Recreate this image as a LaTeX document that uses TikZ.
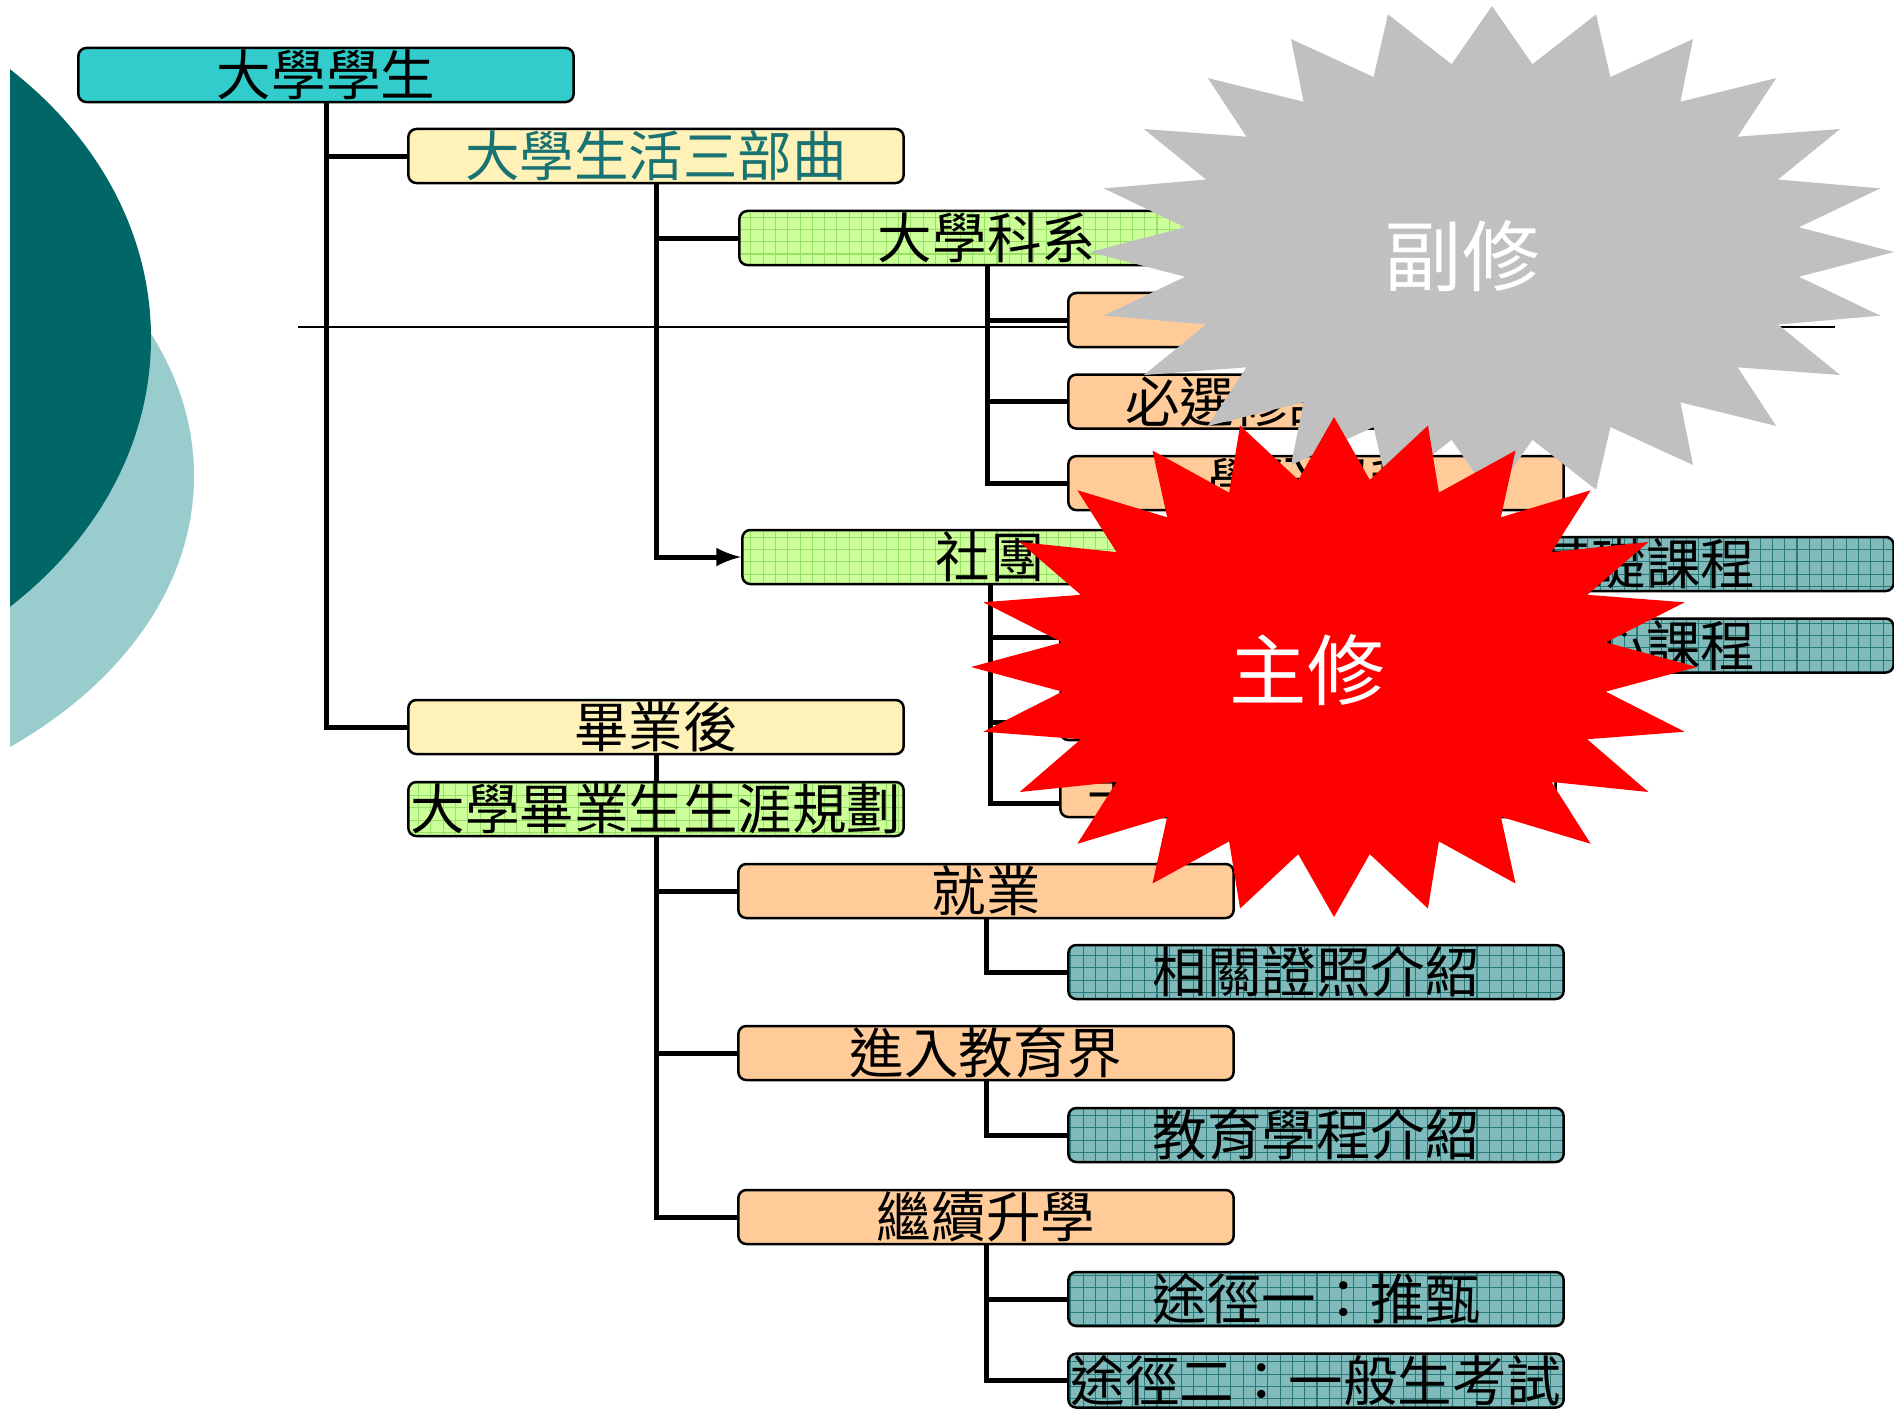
\documentclass[tikz,border=0pt]{standalone}
\usepackage{fontspec}
\setmainfont{Noto Sans CJK TC}
\usepackage{tikz}
\usetikzlibrary{arrows,positioning,patterns}

\definecolor{boxcyan}{HTML}{33CCCC}
\definecolor{boxyellow}{HTML}{FFF2B8}
\definecolor{boxgreen}{HTML}{CCFF99}
\definecolor{gridgreen}{HTML}{99E066}
\definecolor{boxorange}{HTML}{FFCC99}
\definecolor{boxteal}{HTML}{80BABA}
\definecolor{gridteal}{HTML}{2A7A7A}
\definecolor{darkteal}{HTML}{006666}
\definecolor{lightteal}{HTML}{99CCCC}
\definecolor{starred}{HTML}{FF0000}
\definecolor{stargray}{HTML}{C0C0C0}
\definecolor{lifetext}{HTML}{1A7373}

\pgfdeclarepatternformonly{boxgrid}{\pgfqpoint{-1pt}{-1pt}}{\pgfqpoint{4.5pt}{4.5pt}}{\pgfqpoint{3.5pt}{3.5pt}}{
  \pgfsetlinewidth{0.3pt}
  \pgfpathmoveto{\pgfqpoint{0pt}{0pt}}\pgfpathlineto{\pgfqpoint{0pt}{3.51pt}}
  \pgfpathmoveto{\pgfqpoint{0pt}{0pt}}\pgfpathlineto{\pgfqpoint{3.51pt}{0pt}}
  \pgfusepath{stroke}}

\newcommand{\boxtext}{\fontsize{15.5}{17}\selectfont}
\newcommand{\startext}{\fontsize{22}{26}\selectfont}

\begin{document}
\begin{tikzpicture}[x=0.01cm,y=-0.01cm,>=latex,node distance=0.815cm]
  \tikzstyle{base box}=[draw=black,line width=0.025cm,rounded corners=0.08cm,
                        minimum width=4.95cm,minimum height=0.54cm,inner sep=0pt,font=\boxtext]
  \tikzstyle{cyan box}=[base box,fill=boxcyan]
  \tikzstyle{yellow box}=[base box,fill=boxyellow]
  \tikzstyle{green box}=[base box,preaction={fill=boxgreen},pattern=boxgrid,pattern color=gridgreen]
  \tikzstyle{orange box}=[base box,fill=boxorange]
  \tikzstyle{teal box}=[base box,preaction={fill=boxteal},pattern=boxgrid,pattern color=gridteal]
  \tikzstyle{link}=[line width=0.05cm]
  \tikzstyle{star label}=[text=white,font=\startext]

  \useasboundingbox (0,0) rectangle (1894,1411);

  \begin{scope}
    \clip (10,0) rectangle (400,1411);
    \fill[lightteal] (-300,476) ellipse [x radius=494, y radius=348];
    \fill[darkteal]  (-300,338) ellipse [x radius=451, y radius=370];
  \end{scope}

  \draw[line width=0.02cm] (298,327) -- (1835,327);

  \node[cyan box]   (top)   at (326,75)          {大學學生};
  \node[yellow box,text=lifetext] (life) at (656,156) {大學生活三部曲};
  \node[green box]  (dept)  at (987,238)         {大學科系};
  \node[orange box] (c1)    at (1316,320)        {};
  \node[orange box] (c2)    [below of=c1]        {必選修課程介紹};
  \node[orange box] (c3)    [below of=c2]        {學分學程};
  \node[teal box]   (basic) at (1646,564)        {基礎課程};
  \node[teal box]   (core)  [below of=basic]     {核心課程};
  \node[green box]  (club)  at (990,557)         {社團};
  \node[orange box] (s1)    at (1308,628)        {};
  \node[orange box] (s2)    at (1308,713)        {};
  \node[orange box,text width=4.41cm,inner xsep=0.27cm,align=left] (s3) at (1308,790) {手};
  \node[yellow box] (grad)  at (656,727)         {畢業後};
  \node[green box]  (plan)  at (656,809)         {大學畢業生生涯規劃};
  \node[orange box] (job)   at (986,891)         {就業};
  \node[teal box]   (cert)  at (1316,972)        {相關證照介紹};
  \node[orange box] (edu)   at (986,1053)        {進入教育界};
  \node[teal box]   (prog)  at (1316,1135)       {教育學程介紹};
  \node[orange box] (study) at (986,1217)        {繼續升學};
  \node[teal box]   (path1) at (1316,1299)       {途徑一：推甄};
  \node[teal box]   (path2) [below of=path1]     {途徑二：一般生考試};

  \draw[link] (top.south)   |- (life.west);
  \draw[link] (top.south)   |- (grad.west);
  \draw[link] (life.south)  |- (dept.west);
  \draw[link,->] (life.south) |- (club.west);
  \draw[link] (dept.south)  |- (c1.west);
  \draw[link] (dept.south)  |- (c2.west);
  \draw[link] (dept.south)  |- (c3.west);
  \draw[link] (club.south)  |- ([yshift=-0.09cm]s1.west);
  \draw[link] (club.south)  |- ([yshift=-0.09cm]s2.west);
  \draw[link] (club.south)  |- ([yshift=-0.13cm]s3.west);
  \draw[link] (grad.south)  -- (plan.north);
  \draw[link] (plan.south)  |- (job.west);
  \draw[link] (plan.south)  |- (edu.west);
  \draw[link] (plan.south)  |- (study.west);
  \draw[link] (job.south)   |- (cert.west);
  \draw[link] (edu.south)   |- (prog.west);
  \draw[link] (study.south) |- (path1.west);
  \draw[link] (study.south) |- (path2.west);

  \fill[stargray] plot[samples at={0,...,47}]
    ({1492+402*(1-0.23*mod(\x,2))*cos(90+7.5*\x)},{252+246*(1-0.23*mod(\x,2))*sin(90+7.5*\x)}) -- cycle;
  \node[star label] (minor) at (1462,256) {副修};

  \fill[starred] plot[samples at={0,...,47}]
    ({1334+363*(1-0.245*mod(\x,2))*cos(90+7.5*\x)},{667+250*(1-0.245*mod(\x,2))*sin(90+7.5*\x)}) -- cycle;
  \node[star label] (major) at (1307,670) {主修};
\end{tikzpicture}
\end{document}
